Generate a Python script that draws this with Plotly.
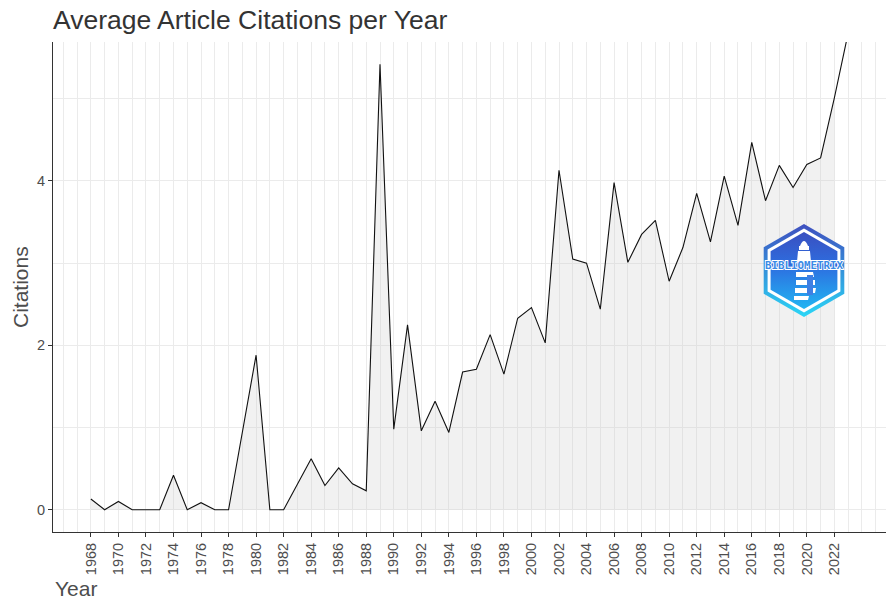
import base64
import plotly.graph_objects as go

# ---- data ----
years = list(range(1968, 2024))
citations = [
    0.13, 0.0, 0.10, 0.0, 0.0, 0.0, 0.42, 0.0, 0.085, 0.0,      # 1968-1977
    0.0, 0.92, 1.88, 0.0, 0.0, 0.31, 0.62, 0.295, 0.51, 0.315,   # 1978-1987
    0.23, 5.42, 0.98, 2.25, 0.96, 1.32, 0.94, 1.675, 1.71, 2.13, # 1988-1997
    1.65, 2.33, 2.46, 2.03, 4.13, 3.05, 3.00, 2.44, 3.98, 3.01,  # 1998-2007
    3.35, 3.52, 2.78, 3.19, 3.85, 3.26, 4.06, 3.46, 4.47, 3.76,  # 2008-2017
    4.19, 3.92, 4.20, 4.28, 5.01, 5.80,                          # 2018-2023
]
area_years = years[:-1]          # shaded area stops at 2022
area_values = citations[:-1]

x_tick_vals = list(range(1968, 2023, 2))
x_tick_text = [str(v) for v in x_tick_vals]
x_minor_vals = list(range(1965, 2027))
y_tick_vals = [0, 2, 4]
y_tick_text = ["0", "2", "4"]
y_minor_vals = [1, 3, 5]

title_text = "Average Article Citations per Year"
x_title = "Year"
y_title = "Citations"

# ---- logo (drawn as inline SVG) ----
svg = """<svg xmlns='http://www.w3.org/2000/svg' width='82' height='93' viewBox='0 0 82 93'>
<defs>
<linearGradient id='g1' x1='0' y1='0' x2='0' y2='1'>
<stop offset='0' stop-color='#3f4fbf'/><stop offset='1' stop-color='#2bd6f6'/></linearGradient>
<linearGradient id='g2' x1='0' y1='0' x2='0' y2='1'>
<stop offset='0' stop-color='#3a4fc0'/><stop offset='0.45' stop-color='#2d6fe0'/><stop offset='1' stop-color='#22b4f2'/></linearGradient>
</defs>
<polygon points='41,0 81.3,23.25 81.3,69.75 41,93 0.7,69.75 0.7,23.25' fill='url(#g1)'/>
<polygon points='41,4.5 77.4,25.5 77.4,67.5 41,88.5 4.6,67.5 4.6,25.5' fill='white'/>
<polygon points='41,8 74.4,27.3 74.4,65.7 41,85 7.6,65.7 7.6,27.3' fill='url(#g2)'/>
<path d='M37,22 Q41,12 45,22 Z' fill='white'/>
<rect x='36' y='22' width='10' height='4' fill='white'/>
<path d='M35,27 L47,27 L48,38 L34,38 Z' fill='white'/>
<path d='M33,48 L50,48 L51,53 L33,53 Z M33,56 L52,56 L52,61 L33,61 Z M32,64 L53,64 L52,69 L32,69 Z M31,72 L46,72 L45,76 L31,76 Z' fill='white'/>
<path d='M44,51 L50,51 L50,71 L44,71 Z' fill='#3f7fe3'/>
<text x='41' y='45' text-anchor='middle' font-family='DejaVu Sans Mono, monospace' font-weight='bold' font-size='11'
 textLength='78' lengthAdjust='spacingAndGlyphs' fill='#3a8ae6' stroke='white' stroke-width='1.8' paint-order='stroke'>BIBLIOMETRIX</text>
</svg>"""
logo_src = "data:image/svg+xml;base64," + base64.b64encode(svg.encode("utf-8")).decode("ascii")

W, H = 887, 601
L, R, T, B = 53, 1, 42, 69
pw, ph = W - L - R, H - T - B

fig = go.Figure()
fig.add_trace(go.Scatter(
    x=area_years, y=area_values, mode="lines",
    line=dict(width=0), fill="tozeroy", fillcolor="rgba(200,200,200,0.25)",
    hoverinfo="skip", showlegend=False,
))
fig.add_trace(go.Scatter(
    x=years, y=citations, mode="lines",
    line=dict(color="#111111", width=1.1), showlegend=False,
))

grid = "#ebebeb"
fig.update_layout(
    width=W, height=H,
    margin=dict(l=L, r=R, t=T, b=B, pad=0, autoexpand=False),
    paper_bgcolor="white", plot_bgcolor="white",
    font=dict(family="Liberation Sans, Arial, sans-serif", color="#4d4d4d"),
    title=dict(text=title_text, x=0, xref="paper", xanchor="left",
               y=1 - 20 / H, yref="container", yanchor="middle",
               font=dict(size=26.5, color="#333333"), automargin=False),
    xaxis=dict(
        range=[1965.25, 2025.75], tickmode="array",
        tickvals=x_tick_vals, ticktext=x_tick_text, tickangle=-90,
        ticks="outside", ticklen=4, tickwidth=1, tickcolor="#333333",
        tickfont=dict(size=14.5, color="#4d4d4d"),
        showgrid=True, gridcolor=grid, gridwidth=1,
        minor=dict(tickmode="array", tickvals=x_minor_vals, showgrid=True,
                   gridcolor=grid, gridwidth=1, ticklen=0),
        showline=True, linecolor="#333333", linewidth=1.2, mirror=False,
        zeroline=False, fixedrange=True, automargin=False,
    ),
    yaxis=dict(
        range=[-0.271, 5.691], tickmode="array",
        tickvals=y_tick_vals, ticktext=y_tick_text,
        ticks="outside", ticklen=4, tickwidth=1, tickcolor="#333333",
        tickfont=dict(size=14.5, color="#4d4d4d"),
        showgrid=True, gridcolor=grid, gridwidth=1,
        minor=dict(tickmode="array", tickvals=y_minor_vals, showgrid=True,
                   gridcolor=grid, gridwidth=1, ticklen=0),
        showline=True, linecolor="#333333", linewidth=1.2, mirror=False,
        zeroline=False, fixedrange=True, automargin=False,
    ),
    annotations=[
        dict(text=y_title, xref="paper", yref="paper", x=(20 - L) / pw, y=0.5,
             xanchor="center", yanchor="middle", textangle=-90, showarrow=False,
             font=dict(size=21, color="#4d4d4d")),
        dict(text=x_title, xref="paper", yref="paper", x=0, y=-(588 - (H - B)) / ph,
             xanchor="left", yanchor="middle", showarrow=False,
             font=dict(size=21, color="#4d4d4d")),
    ],
    images=[dict(source=logo_src, xref="paper", yref="paper",
                 x=(763 - L) / pw, y=(H - B - 224) / ph,
                 sizex=82 / pw, sizey=93 / ph, sizing="stretch",
                 xanchor="left", yanchor="top", layer="above")],
)

fig.write_html(
    "out.html",
    config={"displayModeBar": False},
    post_script="document.body.style.margin='0px';document.body.style.overflow='hidden';",
)
